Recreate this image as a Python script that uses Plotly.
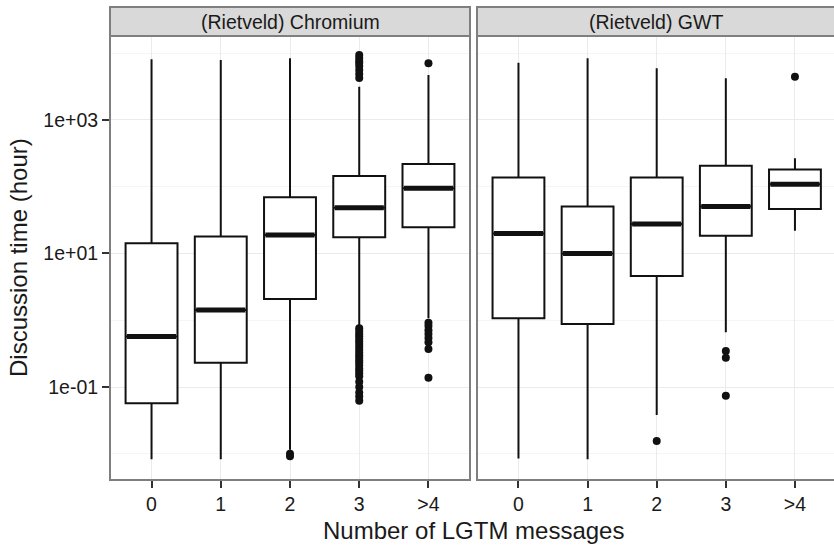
import plotly.graph_objects as go

categories = ["0", "1", "2", "3", ">4"]
panels = ["(Rietveld) Chromium", "(Rietveld) GWT"]

# Chromium box statistics (hours)
chr_low = [0.0083, 0.0083, 0.0115, 0.85, 1.07]
chr_q1 = [0.057, 0.23, 2.08, 17.5, 24.7]
chr_med = [0.57, 1.43, 18.9, 48.5, 94.7]
chr_q3 = [14.2, 17.9, 69.5, 145, 219]
chr_high = [8100, 7900, 8400, 3150, 4720]
chr_out = {
    2: [0.0100, 0.0092],
    3: [9420, 8490, 7650, 7140, 6440, 5610, 4890, 4260,
        0.76, 0.69, 0.63, 0.575, 0.525, 0.48, 0.44, 0.40, 0.36, 0.33, 0.30,
        0.275, 0.25, 0.23, 0.21, 0.19, 0.175, 0.16, 0.145, 0.12, 0.10, 0.083,
        0.072, 0.062],
    4: [7060, 0.92, 0.82, 0.71, 0.62, 0.54, 0.47, 0.37, 0.138],
}

# GWT box statistics (hours)
gwt_low = [0.0085, 0.0083, 0.038, 0.66, 22.0]
gwt_q1 = [1.07, 0.88, 4.6, 18.5, 46.5]
gwt_med = [20.0, 10.0, 27.7, 50.4, 109]
gwt_q3 = [138, 50.4, 138, 207, 182]
gwt_high = [7230, 8400, 5940, 4210, 267]
gwt_out = {
    2: [0.0155],
    3: [0.346, 0.275, 0.074],
    4: [4460],
}

ytick_vals = [0.1, 10, 1000]
ytick_text = ["1e-01", "1e+01", "1e+03"]
yminor_vals = [0.01, 1, 100, 10000]

FONT = "Liberation Sans, Arial, sans-serif"
TXT = "#1a1a1a"
BORDER = "#7f7f7f"
GRID = "#ebebeb"
MINOR = "#f5f5f5"
BOXW = 0.75

fig = go.Figure()

data = [
    (chr_low, chr_q1, chr_med, chr_q3, chr_high, chr_out, "x", "y"),
    (gwt_low, gwt_q1, gwt_med, gwt_q3, gwt_high, gwt_out, "x2", "y2"),
]

for low, q1, med, q3, high, outs, xa, ya in data:
    xs = list(range(len(categories)))
    fig.add_trace(go.Box(
        x=xs, q1=q1, median=med, q3=q3, lowerfence=low, upperfence=high,
        width=BOXW, whiskerwidth=0, fillcolor="white",
        line=dict(color="#111111", width=2), boxpoints=False,
        xaxis=xa, yaxis=ya, showlegend=False, hoverinfo="skip",
    ))
    # thick median lines
    mx, my = [], []
    for i, m in enumerate(med):
        mx += [i - BOXW / 2 + 0.02, i + BOXW / 2 - 0.02, None]
        my += [m, m, None]
    fig.add_trace(go.Scatter(
        x=mx, y=my, mode="lines", line=dict(color="#111111", width=5),
        xaxis=xa, yaxis=ya, showlegend=False, hoverinfo="skip",
    ))
    ox, oy = [], []
    for i, vals in outs.items():
        ox += [i] * len(vals)
        oy += vals
    fig.add_trace(go.Scatter(
        x=ox, y=oy, mode="markers", marker=dict(color="#111111", size=8),
        xaxis=xa, yaxis=ya, showlegend=False, hoverinfo="skip",
    ))

W, H = 834, 545
y_dom = [(H - 480) / H, (H - 36) / H]
x1_dom = [110 / W, 470 / W]
x2_dom = [477 / W, 1.0]

xaxis_common = dict(
    tickmode="array", tickvals=list(range(len(categories))), ticktext=categories,
    showgrid=True, gridcolor=GRID, gridwidth=1, zeroline=False,
    ticks="outside", ticklen=7, tickwidth=1.5, tickcolor="#333333",
    tickfont=dict(family=FONT, size=19.5, color=TXT), showline=False,
)
yaxis_common = dict(
    type="log", range=[-2.393, 4.258], tickmode="array",
    tickvals=ytick_vals, ticktext=ytick_text,
    showgrid=True, gridcolor=GRID, gridwidth=1.2, zeroline=False,
    minor=dict(tickmode="array", tickvals=yminor_vals, showgrid=True,
               gridcolor=MINOR, gridwidth=1, ticks=""),
    tickfont=dict(family=FONT, size=19.5, color=TXT), showline=False,
)

fig.update_layout(
    width=W, height=H, margin=dict(l=0, r=0, t=0, b=0),
    paper_bgcolor="white", plot_bgcolor="white",
    xaxis=dict(domain=x1_dom, range=[-0.6, 4.6], anchor="y", **xaxis_common),
    xaxis2=dict(domain=x2_dom, range=[-0.6, 4.565], anchor="y2", **xaxis_common),
    yaxis=dict(domain=y_dom, anchor="x", ticks="outside", ticklen=7, tickwidth=1.5,
               tickcolor="#333333", **yaxis_common),
    yaxis2=dict(domain=y_dom, anchor="x2", showticklabels=False, ticks="",
                matches="y", **yaxis_common),
)

strip_h = 29 / 444
shapes = []
annotations = []
for xr, yr, title, xend in [("x domain", "y domain", panels[0], 1.0),
                            ("x2 domain", "y2 domain", panels[1], 1.02)]:
    shapes.append(dict(type="rect", xref=xr, yref=yr, x0=0, x1=xend, y0=0, y1=1,
                       line=dict(color=BORDER, width=2), fillcolor="rgba(0,0,0,0)",
                       layer="above"))
    shapes.append(dict(type="rect", xref=xr, yref=yr, x0=0, x1=xend, y0=1, y1=1 + strip_h,
                       line=dict(color=BORDER, width=2), fillcolor="#d9d9d9",
                       layer="above"))
    annotations.append(dict(text=title, xref=xr, yref=yr, x=0.5, y=1 + strip_h / 2,
                            showarrow=False, xanchor="center", yanchor="middle",
                            font=dict(family=FONT, size=19.5, color=TXT)))

annotations.append(dict(text="Number of LGTM messages", xref="paper", yref="paper",
                        x=473 / W, y=(H - 530) / H, showarrow=False,
                        xanchor="center", yanchor="middle",
                        font=dict(family=FONT, size=24, color=TXT)))
annotations.append(dict(text="Discussion time (hour)", xref="paper", yref="paper",
                        x=18 / W, y=(H - 258) / H, showarrow=False, textangle=-90,
                        xanchor="center", yanchor="middle",
                        font=dict(family=FONT, size=24, color=TXT)))

fig.update_layout(shapes=shapes, annotations=annotations)

fig.write_html("out.html")
